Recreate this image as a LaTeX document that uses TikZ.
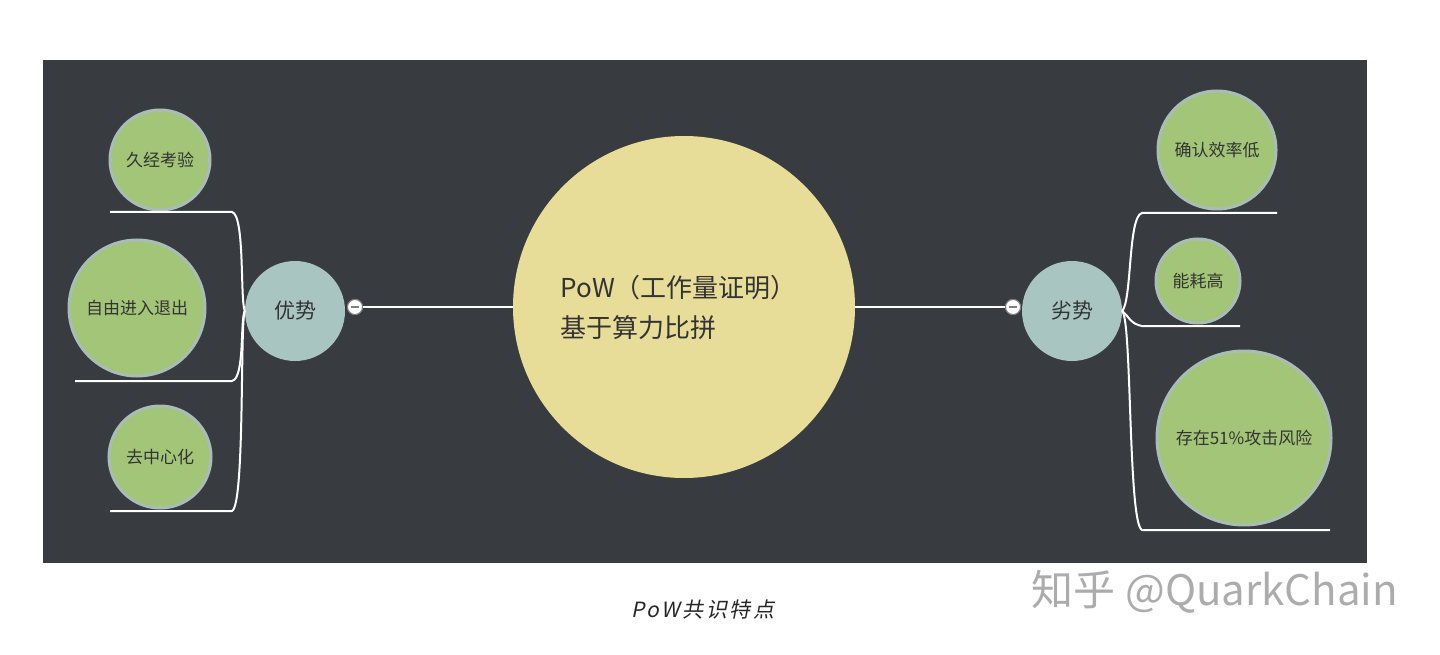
\documentclass[tikz,border=0pt]{standalone}
\usepackage{fontspec}
\setmainfont{Noto Sans CJK SC}
\newfontfamily\capfont[FakeSlant=0.2,LetterSpace=12]{Noto Sans CJK SC}
\begin{document}
\begin{tikzpicture}[x=1pt,y=-1pt,
 leaf/.style={circle,fill=leafg,draw=leafb,line width=3pt,inner sep=0pt,text=black!80,font=\fontsize{17}{20}\selectfont},
 mid/.style={circle,fill=midc,inner sep=0pt,minimum size=100pt,text=black!80,font=\fontsize{21}{24}\selectfont},
 knob/.style={circle,fill=white,draw=gray,line width=1pt,minimum size=15pt,inner sep=0pt},
 br/.style={white,line width=2pt}]
\definecolor{leafg}{HTML}{A3C577}
\definecolor{leafb}{HTML}{A7BDB5}
\definecolor{midc}{HTML}{A9C5C1}
\definecolor{cen}{HTML}{E7DC98}
\definecolor{bg}{HTML}{383C41}
\useasboundingbox (0,0) rectangle (1440,655);
\fill[white] (0,0) rectangle (1440,655);
\fill[bg] (43,60) rectangle (1367,563);
\node[circle,fill=cen,minimum size=342pt,inner sep=0pt] (c) at (684,307) {};
\node[anchor=west,align=left,font=\fontsize{26}{40}\selectfont,text=black!80] (ct) at (557,307) {PoW（工作量证明）\\基于算力比拼};
\node[mid] (a) at (295,311) {优势};
\node[mid] (d) at (1072,311) {劣势};
\node[knob] (ka) at (355,307) {};
\node[knob] (kd) at (1013,307) {};
\draw[br] (ka.center) -- (ka.center -| c.west);
\draw[br] (kd.center) -- (kd.center -| c.east);
\node[knob] at (ka) {};
\node[knob] at (kd) {};
\draw[gray,line width=1.5pt] ([xshift=-4pt]ka.center) -- ([xshift=4pt]ka.center);
\draw[gray,line width=1.5pt] ([xshift=-4pt]kd.center) -- ([xshift=4pt]kd.center);
\node[leaf,minimum size=100pt] (l1) at (160,160) {久经考验};
\node[leaf,minimum size=136pt] (l2) at (137,308) {自由进入退出};
\node[leaf,minimum size=102pt] (l3) at (160,457) {去中心化};
\node[leaf,minimum size=118pt] (r1) at (1217,150) {确认效率低};
\node[leaf,minimum size=84pt] (r2) at (1198,281) {能耗高};
\node[leaf,minimum size=174pt] (r3) at (1244,438) {存在51\%攻击风险};
\coordinate (u1a) at (110,212); \coordinate (u1b) at (232,212);
\coordinate (u2a) at (75,381); \coordinate (u2b) at (232,381);
\coordinate (u3a) at (110,511); \coordinate (u3b) at (232,511);
\draw[br] (u1a) -- (u1b) .. controls (245,215) and (240,300) .. (a.west);
\draw[br] (u2a) -- (u2b) .. controls (245,378) and (240,320) .. (a.west);
\draw[br] (u3a) -- (u3b) .. controls (245,505) and (240,320) .. (a.west);
\coordinate (v1a) at (1277,213); \coordinate (v1b) at (1142,213);
\coordinate (v2a) at (1240,326); \coordinate (v2b) at (1142,326);
\coordinate (v3a) at (1330,530); \coordinate (v3b) at (1142,530);
\draw[br] (v1a) -- (v1b) .. controls (1128,216) and (1132,300) .. (d.east);
\draw[br] (v2a) -- (v2b) .. controls (1130,324) and (1128,315) .. (d.east);
\draw[br] (v3a) -- (v3b) .. controls (1128,524) and (1132,320) .. (d.east);
\node[font=\fontsize{21}{24}\selectfont\capfont,text=black!85] (cap) at (703,610) {PoW共识特点};
\node[font=\fontsize{42}{48}\selectfont,text=gray!65] (wm) at (1215,592) {知乎 @QuarkChain};
\end{tikzpicture}
\end{document}
